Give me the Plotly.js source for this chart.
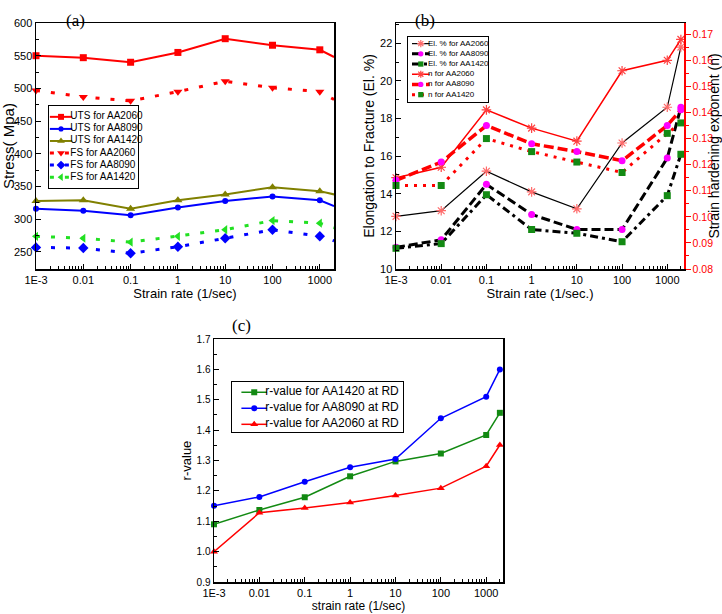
<!DOCTYPE html>
<html>
<head>
<meta charset="utf-8">
<script src="https://cdn.plot.ly/plotly-3.0.1.min.js"></script>
<style>html,body{margin:0;padding:0;background:#fff}</style>
</head>
<body>
<div id="chart" style="width:722px;height:614px"></div>
<script>
const W = 722, H = 614;

// strain rates shared by all three panels (1/sec)
const rates = [0.001, 0.01, 0.1, 1, 10, 100, 1000, 2000];
const rateTickVals = [0.001, 0.01, 0.1, 1, 10, 100, 1000];
const rateTickText = ['1E-3', '0.01', '0.1', '1', '10', '100', '1000'];

// (a) stress (MPa)
const utsAA2060 = [550, 547, 540, 555, 576, 566, 559, 548];
const utsAA8090 = [316, 313, 306, 318, 328, 335, 329, 320];
const utsAA1420 = [328, 329, 316, 329, 338, 349, 343, 338];
const fsAA2060  = [497, 487, 481, 495, 511, 501, 495, 483];
const fsAA8090  = [257, 256, 248, 258, 271, 284, 274, 267];
const fsAA1420  = [274, 271, 265, 274, 284, 298, 294, 287];

// (b) elongation to fracture (%) and strain hardening exponent n
const elAA2060 = [12.8, 13.1, 15.2, 14.1, 13.2, 16.7, 18.6, 21.8];
const elAA8090 = [11.15, 11.55, 14.5, 12.9, 12.1, 12.1, 15.9, 18.6];
const elAA1420 = [11.1, 11.35, 13.95, 12.1, 11.9, 11.45, 13.9, 16.1];
const nAA2060  = [0.115, 0.119, 0.141, 0.134, 0.129, 0.156, 0.160, 0.168];
const nAA8090  = [0.114, 0.121, 0.135, 0.128, 0.125, 0.1215, 0.135, 0.141];
const nAA1420  = [0.112, 0.112, 0.130, 0.125, 0.121, 0.117, 0.132, 0.136];

// (c) r-value at RD
const rAA1420 = [1.090, 1.137, 1.179, 1.248, 1.297, 1.323, 1.384, 1.457];
const rAA8090 = [1.151, 1.180, 1.230, 1.278, 1.305, 1.439, 1.510, 1.600];
const rAA2060 = [1.000, 1.128, 1.144, 1.162, 1.185, 1.209, 1.281, 1.351];

const FONT = 'Liberation Sans, Arial, sans-serif';
const SERIF = 'Liberation Serif, Times New Roman, serif';
const GREEN = '#138a13';

// ─── series styles ──────────────────────────────────────────────────────────

const seriesA = [
    { name: 'UTS for AA2060', y: utsAA2060, color: '#ff0000', width: 2,   symbol: 'square',        size: 7 },
    { name: 'UTS for AA8090', y: utsAA8090, color: '#0000ff', width: 2,   symbol: 'circle',        size: 6 },
    { name: 'UTS for AA1420', y: utsAA1420, color: '#808000', width: 2,   symbol: 'triangle-up',   size: 8 },
    { name: 'FS for AA2060',  y: fsAA2060,  color: '#ff0000', width: 3,   symbol: 'triangle-down', size: 8, dash: '4px,11px' },
    { name: 'FS for AA8090',  y: fsAA8090,  color: '#0000ff', width: 3,   symbol: 'diamond',       size: 8, dash: '4px,11px' },
    { name: 'FS for AA1420',  y: fsAA1420,  color: '#22e022', width: 3,   symbol: 'triangle-left', size: 8, dash: '4px,11px' },
];

const seriesB = [
    { name: 'El. % for AA2060', y: elAA2060, axis: 'y2', color: '#000', width: 1.2, symbol: 'asterisk-open', size: 8, mcolor: '#ff6a6a', mlw: 1.2 },
    { name: 'El. % for AA8090', y: elAA8090, axis: 'y2', color: '#000', width: 3,   symbol: 'circle', size: 7, mcolor: '#ff00ff', dash: '9px,4px' },
    { name: 'El. % for AA1420', y: elAA1420, axis: 'y2', color: '#000', width: 3,   symbol: 'square', size: 7, mcolor: GREEN, dash: '8px,4px,3px,4px' },
    { name: 'n for AA2060',     y: nAA2060,  axis: 'y3', color: '#ff0000', width: 1.5, symbol: 'asterisk-open', size: 8, mcolor: '#ff4040', mlw: 1.2 },
    { name: 'n for AA8090',     y: nAA8090,  axis: 'y3', color: '#ff0000', width: 3.5, symbol: 'circle', size: 7, mcolor: '#ff00ff', dash: '10px,4px' },
    { name: 'n for AA1420',     y: nAA1420,  axis: 'y3', color: '#ff0000', width: 3,   symbol: 'square', size: 7, mcolor: GREEN, dash: '3px,6px' },
];

const seriesC = [
    { name: 'r-value for AA1420 at RD', y: rAA1420, color: GREEN,     width: 1.5, symbol: 'square',      size: 6 },
    { name: 'r-value for AA8090 at RD', y: rAA8090, color: '#0000ff', width: 1.5, symbol: 'circle',      size: 6 },
    { name: 'r-value for AA2060 at RD', y: rAA2060, color: '#ff0000', width: 1.5, symbol: 'triangle-up', size: 7 },
];

// ─── helpers ────────────────────────────────────────────────────────────────

const px = p => p / W;
const py = p => 1 - p / H;

function dataTrace(s, xa, ya) {
    const mc = s.mcolor || s.color;
    return {
        x: rates, y: s.y, xaxis: xa, yaxis: ya,
        type: 'scatter', mode: 'lines+markers', cliponaxis: false, hoverinfo: 'skip',
        line: { color: s.color, width: s.width, dash: s.dash || 'solid' },
        marker: { symbol: s.symbol, size: s.size, color: mc, line: { width: s.mlw || 0, color: mc } },
    };
}

// legend drawn inside its own small axes so rows can be as tight as the original
function legendTraces(series, xa, ya, x0, x1, xt, fontSize, mscale) {
    const out = [];
    series.forEach((s, i) => {
        const mc = s.mcolor || s.color;
        out.push({
            x: [x0, x1], y: [i, i], xaxis: xa, yaxis: ya, type: 'scatter', mode: 'lines',
            line: { color: s.color, width: s.width, dash: s.dash || 'solid' }, hoverinfo: 'skip',
        });
        out.push({
            x: [(x0 + x1) / 2], y: [i], xaxis: xa, yaxis: ya, type: 'scatter', mode: 'markers',
            marker: { symbol: s.symbol, size: s.size * mscale, color: mc, line: { width: s.mlw || 0, color: mc } },
            hoverinfo: 'skip',
        });
    });
    out.push({
        x: series.map(() => xt), y: series.map((s, i) => i), text: series.map(s => s.name),
        xaxis: xa, yaxis: ya, type: 'scatter', mode: 'text', textposition: 'middle right', cliponaxis: false,
        textfont: { family: FONT, size: fontSize, color: '#000' }, hoverinfo: 'skip',
    });
    return out;
}

function rateAxis(x0, x1, range, anchor, title, titleSize) {
    return {
        type: 'log', domain: [px(x0), px(x1)], range, anchor,
        tickmode: 'array', tickvals: rateTickVals, ticktext: rateTickText,
        ticks: 'inside', ticklen: 5, tickcolor: '#000', tickfont: { family: FONT, size: 11, color: '#000' },
        minor: { dtick: 'D1', ticks: 'inside', ticklen: 3, tickcolor: '#000', showgrid: false },
        showline: true, linecolor: '#000', linewidth: 1.5, mirror: true,
        showgrid: false, zeroline: false,
        title: { text: title, font: { family: FONT, size: titleSize, color: '#000' }, standoff: 2 },
    };
}

function valueAxis(y0, y1, range, anchor, dtick, title, titleSize, extra) {
    return Object.assign({
        domain: [py(y1), py(y0)], range, anchor, tick0: 0, dtick,
        ticks: 'inside', ticklen: 5, tickcolor: '#000', tickfont: { family: FONT, size: 11, color: '#000' },
        minor: { dtick: dtick / 2, ticks: 'inside', ticklen: 3, tickcolor: '#000', showgrid: false },
        showline: true, linecolor: '#000', linewidth: 1.5, mirror: true,
        showgrid: false, zeroline: false,
        title: { text: title, font: { family: FONT, size: titleSize, color: '#000' }, standoff: 2 },
    }, extra || {});
}

function legendAxes(x0, x1, y0, y1, rows, padTop, padBottom) {
    const frame = {
        showline: true, linecolor: '#000', linewidth: 1, mirror: true,
        showgrid: false, zeroline: false, showticklabels: false, ticks: '', fixedrange: true,
    };
    return [
        Object.assign({ domain: [px(x0), px(x1)], range: [0, 1] }, frame),
        Object.assign({ domain: [py(y1), py(y0)], range: [rows - 1 + padBottom, -padTop] }, frame),
    ];
}

// ─── figure ─────────────────────────────────────────────────────────────────

const traces = [
    ...seriesA.map(s => dataTrace(s, 'x', 'y')),
    ...seriesB.map(s => dataTrace(s, 'x2', s.axis)),
    ...seriesC.map(s => dataTrace(s, 'x3', 'y4')),
    ...legendTraces(seriesA, 'x5', 'y5', 0.01, 0.26, 0.24, 10, 0.85),
    ...legendTraces(seriesB, 'x6', 'y6', 0.05, 0.27, 0.25, 8, 0.75),
    ...legendTraces(seriesC, 'x7', 'y7', 0.055, 0.205, 0.195, 12, 1),
];

const [lax, lay] = legendAxes(49, 138, 106, 188, 6, 0.9, 0.9);
const [lbx, lby] = legendAxes(408, 488, 37, 102, 6, 0.65, 0.72);
const [lcx, lcy] = legendAxes(232, 403, 382, 432, 3, 0.64, 0.48);

const layout = {
    width: W, height: H,
    margin: { l: 0, r: 0, t: 0, b: 0 },
    paper_bgcolor: '#fff', plot_bgcolor: '#fff',
    font: { family: FONT, color: '#000' },
    showlegend: false,

    xaxis:  rateAxis(36, 334, [-3, 3.3], 'y', 'Strain rate (1/sec)', 13),
    yaxis:  valueAxis(23, 269, [224, 600], 'x', 50, 'Stress( Mpa)', 15),

    xaxis2: rateAxis(396, 684, [-3, 3.37], 'y2', 'Strain rate (1/sec.)', 13),
    yaxis2: valueAxis(23, 269, [10, 23.08], 'x2', 2, 'Elongation to Fracture (El. %)', 14, { mirror: false }),
    yaxis3: {
        overlaying: 'y2', side: 'right', anchor: 'x2', range: [0.08, 0.1743],
        tick0: 0.08, dtick: 0.01, tickformat: '.2f',
        ticks: 'outside', ticklen: 5, tickcolor: '#ff0000',
        tickfont: { family: FONT, size: 10.5, color: '#ff0000' },
        minor: { dtick: 0.005, ticks: 'outside', ticklen: 3, tickcolor: '#ff0000', showgrid: false },
        showline: true, linecolor: '#ff0000', linewidth: 1.5,
        showgrid: false, zeroline: false,
        title: { text: 'Strain hardening exponent (n)', font: { family: FONT, size: 14, color: '#000' }, standoff: 3 },
    },

    xaxis3: rateAxis(214, 503, [-3, 3.37], 'y4', 'strain rate (1/sec)', 12),
    yaxis4: valueAxis(339, 582, [0.9, 1.7], 'x3', 0.1, 'r-value', 13, { tickformat: '.1f', tickfont: { family: FONT, size: 10, color: '#000' } }),

    xaxis5: Object.assign(lax, { anchor: 'y5' }), yaxis5: Object.assign(lay, { anchor: 'x5' }),
    xaxis6: Object.assign(lbx, { anchor: 'y6' }), yaxis6: Object.assign(lby, { anchor: 'x6' }),
    xaxis7: Object.assign(lcx, { anchor: 'y7' }), yaxis7: Object.assign(lcy, { anchor: 'x7' }),

    annotations: [
        { text: '(a)', x: px(64), y: py(9),   xref: 'paper', yref: 'paper', showarrow: false, font: { family: SERIF, size: 17 } },
        { text: '(b)', x: px(425), y: py(9),  xref: 'paper', yref: 'paper', showarrow: false, font: { family: SERIF, size: 17 } },
        { text: '(c)', x: px(230), y: py(325), xref: 'paper', yref: 'paper', showarrow: false, font: { family: SERIF, size: 17 } },
    ],
};

Plotly.newPlot('chart', traces, layout, { displayModeBar: false, staticPlot: true });
</script>
</body>
</html>
